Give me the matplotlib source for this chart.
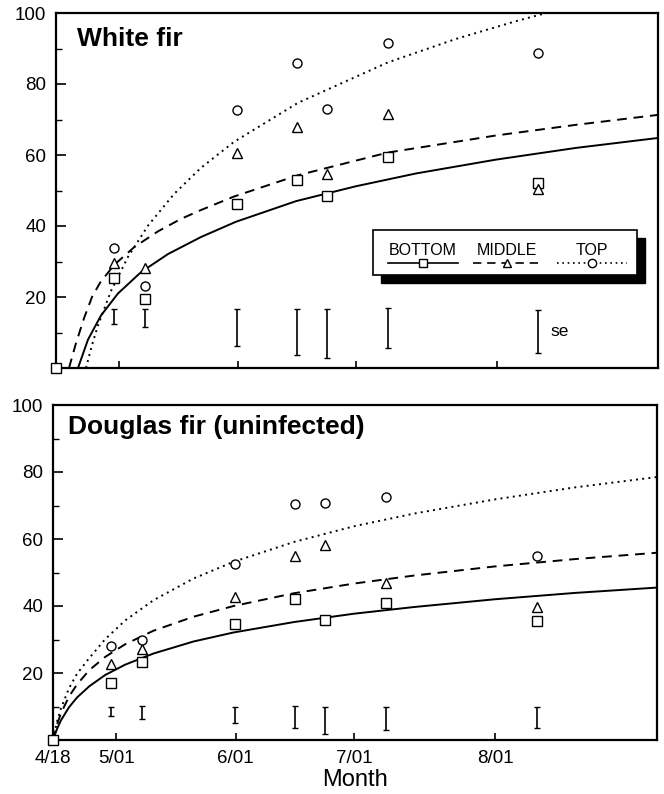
import matplotlib
matplotlib.use('Agg')
import numpy as np
import matplotlib.pyplot as plt
from matplotlib.patches import Rectangle
from matplotlib.ticker import MultipleLocator

plt.rcParams['font.family'] = ['Liberation Sans', 'DejaVu Sans']

# x axis unit: days after 4/18 (as spaced on the original figure)
tick_pos = [0, 15.75, 45.5, 75, 110.25]
tick_labels = ['4/18', '5/01', '6/01', '7/01', '8/01']
sample_days = [14.5, 22.25, 45.25, 60.25, 67.75, 83, 120.5]

# White fir: observed means
wf_bottom = [25.4, 19.4, 46.2, 53.0, 48.5, 59.4, 52.0]
wf_middle = [29.6, 28.2, 60.6, 67.9, 54.6, 71.5, 50.5]
wf_top = [33.8, 23.0, 72.7, 85.9, 73.0, 91.5, 88.7]
wf_se_low = [12.4, 11.5, 6.2, 3.7, 2.8, 5.6, 4.2]
wf_se_high = [16.6, 16.6, 16.6, 16.6, 16.6, 16.9, 16.3]

# White fir: fitted curves
wf_fit_bottom_x = [5.5, 8, 11.25, 15.5, 21.25, 28, 36.25, 45, 60, 75, 90, 110, 130, 150.5]
wf_fit_bottom_y = [0, 8.0, 14.8, 21.0, 27.0, 32.1, 36.9, 41.2, 47.0, 51.2, 54.8, 58.7, 62.0, 64.8]
wf_fit_middle_x = [3.25, 5, 7, 9, 11, 14.5, 19.5, 25.5, 31.25, 36.25, 44.5, 60.5, 83, 110, 130, 150.5]
wf_fit_middle_y = [0, 7.0, 14.0, 20.0, 24.0, 29.0, 34.0, 38.5, 42.0, 44.5, 48.3, 54.3, 60.7, 65.5, 68.5, 71.3]
wf_fit_top_x = [7.5, 9, 10.5, 13.75, 18, 23, 29.5, 36.25, 44.5, 60.5, 83, 100, 115, 125.5]
wf_fit_top_y = [0, 6.5, 12.0, 21.7, 31.3, 40.1, 49.0, 56.4, 63.7, 74.7, 86.1, 92.7, 97.7, 100.9]

# Douglas fir (uninfected): observed means
df_bottom = [17.0, 23.3, 34.6, 42.0, 35.8, 40.8, 35.5]
df_middle = [22.7, 27.2, 42.8, 55.0, 58.2, 46.8, 39.7]
df_top = [28.1, 29.9, 52.5, 70.4, 70.8, 72.5, 54.9]
df_se_low = [7.2, 6.2, 5.1, 3.6, 1.8, 3.0, 3.6]
df_se_high = [9.9, 10.1, 9.9, 10.1, 9.9, 9.9, 9.9]

# Douglas fir: fitted curves
df_fit_x = [0, 1, 2, 4, 6, 9, 13, 18, 25, 35, 45, 60, 75, 90, 110, 130, 150.5]
df_fit_bottom = [0, 3.3, 5.9, 9.8, 12.7, 16.0, 19.4, 22.5, 25.8, 29.4, 32.1, 35.2, 37.7, 39.7, 42.0, 43.9, 45.5]
df_fit_middle = [0, 4.6, 8.0, 13.0, 16.6, 20.8, 24.8, 28.6, 32.6, 36.8, 40.0, 43.8, 46.7, 49.1, 51.8, 54.0, 55.9]
df_fit_top = [0, 5.5, 9.5, 15.5, 19.8, 24.4, 30.1, 35.7, 41.7, 48.2, 53.2, 59.1, 63.8, 67.6, 71.8, 75.4, 78.5]

styles = {
    'BOTTOM': dict(ls='-', marker='s'),
    'MIDDLE': dict(ls=(0, (5, 3.5)), marker='^'),
    'TOP': dict(ls=(0, (1, 2.2)), marker='o'),
}


def setup_axes(ax, show_xlabels):
    ax.set_xlim(0, 150.5)
    ax.set_ylim(0, 100)
    ax.set_yticks([20, 40, 60, 80, 100])
    ax.yaxis.set_minor_locator(MultipleLocator(10))
    ax.set_xticks(tick_pos)
    if show_xlabels:
        ax.set_xticklabels(tick_labels)
    else:
        ax.set_xticklabels([])
    ax.tick_params(axis='both', which='major', direction='in', length=7, width=1.2,
                   labelsize=13.5, pad=7)
    ax.tick_params(axis='both', which='minor', direction='in', length=4, width=1)
    ax.tick_params(axis='x', which='major', length=5)
    for sp in ax.spines.values():
        sp.set_linewidth(1.6)


def draw_panel(ax, obs, fits, se_low, se_high, title, title_x, title_y):
    for name, vals in obs.items():
        ax.plot(sample_days, vals, ls='none', marker=styles[name]['marker'], ms=6.5,
                mfc='white', mec='black', mew=1.0, zorder=3)
    for name, (fx, fy) in fits.items():
        ax.plot(fx, fy, color='black', lw=1.4, ls=styles[name]['ls'], zorder=2)
    low = np.array(se_low)
    high = np.array(se_high)
    center = (low + high) / 2
    ax.errorbar(sample_days, center, yerr=(high - low) / 2, fmt='none', ecolor='black',
                elinewidth=1.2, capsize=2.5, capthick=1.0)
    # origin point
    ax.plot([0], [0], marker='s', ms=6.5, mfc='white', mec='black', mew=1.0,
            clip_on=False, zorder=4)
    ax.text(title_x, title_y, title, transform=ax.transAxes, fontsize=19,
            fontweight='bold', va='center', ha='left')


fig = plt.figure(figsize=(6.64, 7.94), dpi=100)
ax1 = fig.add_axes([56 / 664, 1 - 368 / 794, 602 / 664, 355 / 794])
ax2 = fig.add_axes([53 / 664, 1 - 740 / 794, 604 / 664, 335 / 794])

setup_axes(ax1, False)
setup_axes(ax2, True)

draw_panel(ax1,
           {'BOTTOM': wf_bottom, 'MIDDLE': wf_middle, 'TOP': wf_top},
           {'BOTTOM': (wf_fit_bottom_x, wf_fit_bottom_y),
            'MIDDLE': (wf_fit_middle_x, wf_fit_middle_y),
            'TOP': (wf_fit_top_x, wf_fit_top_y)},
           wf_se_low, wf_se_high, 'White fir', 0.035, 0.927)
ax1.text(sample_days[-1] + 3, (wf_se_low[-1] + wf_se_high[-1]) / 2, 'se',
         fontsize=12.5, va='center', ha='left')

draw_panel(ax2,
           {'BOTTOM': df_bottom, 'MIDDLE': df_middle, 'TOP': df_top},
           {'BOTTOM': (df_fit_x, df_fit_bottom),
            'MIDDLE': (df_fit_x, df_fit_middle),
            'TOP': (df_fit_x, df_fit_top)},
           df_se_low, df_se_high, 'Douglas fir (uninfected)', 0.025, 0.934)

ax2.set_xlabel('Month', fontsize=17, labelpad=2)

# hand-drawn style legend with shadow in the top panel
bx0, bx1, by0, by1 = 0.527, 0.965, 0.262, 0.389
ax1.add_patch(Rectangle((bx0 + 0.013, by0 - 0.023), bx1 - bx0, by1 - by0,
                        transform=ax1.transAxes, facecolor='black', edgecolor='black',
                        zorder=5))
ax1.add_patch(Rectangle((bx0, by0), bx1 - bx0, by1 - by0, transform=ax1.transAxes,
                        facecolor='white', edgecolor='black', lw=1.2, zorder=6))
legend_spots = {'BOTTOM': (0.551, 0.668), 'MIDDLE': (0.693, 0.804), 'TOP': (0.832, 0.949)}
for name, (lx0, lx1) in legend_spots.items():
    mid = (lx0 + lx1) / 2
    ax1.text(mid, 0.332, name, transform=ax1.transAxes, fontsize=11.5,
             ha='center', va='center', zorder=7)
    ax1.plot([lx0, lx1], [0.296, 0.296], transform=ax1.transAxes, color='black',
             lw=1.2, ls=styles[name]['ls'], zorder=7)
    ax1.plot([mid], [0.296], transform=ax1.transAxes, marker=styles[name]['marker'],
             ms=6, mfc='white', mec='black', mew=1.0, zorder=8)

fig.savefig('out.png', dpi=100)
